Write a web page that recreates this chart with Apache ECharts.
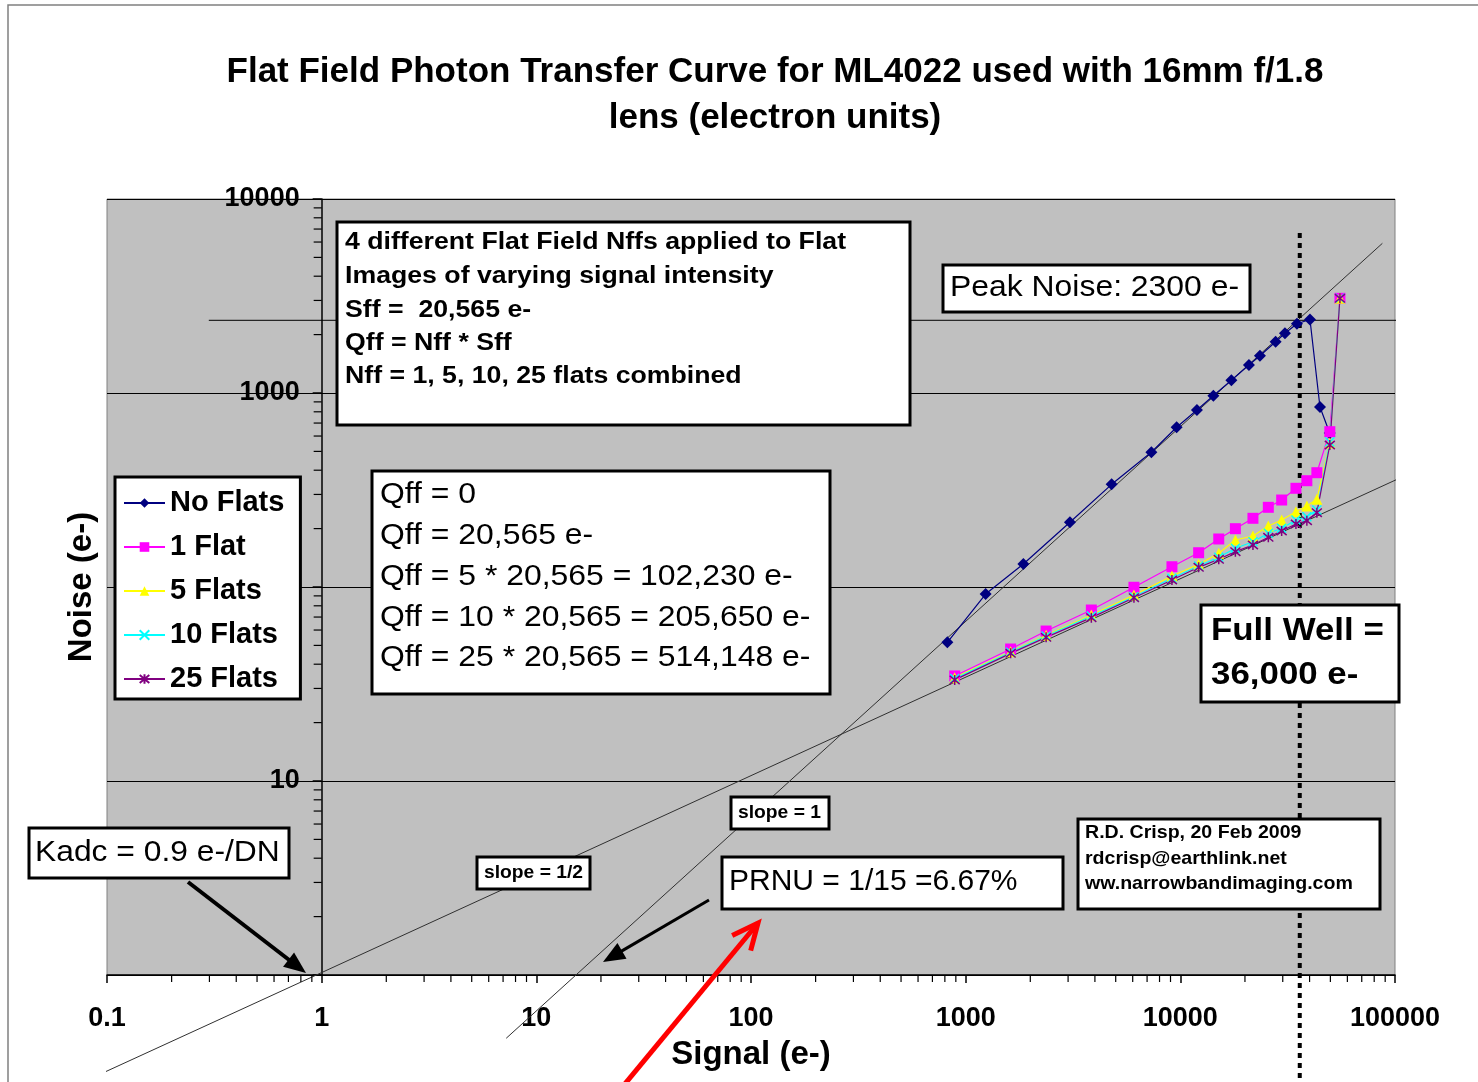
<!DOCTYPE html>
<html>
<head>
<meta charset="utf-8">
<script src="https://cdn.jsdelivr.net/npm/echarts@6/dist/echarts.min.js"></script>
<style>
html,body{margin:0;padding:0;background:#fff;}
#chart{width:1478px;height:1082px;}
</style>
</head>
<body>
<div id="chart"></div>
<script>
// ---------- data ----------
const seriesNames = ['No Flats', '1 Flat', '5 Flats', '10 Flats', '25 Flats'];
const xTickLabels = ['0.1', '1', '10', '100', '1000', '10000', '100000'];
const yTickLabels = ['10', '1000', '10000'];   // "1" and "100" are not visible in the picture

const signalNoFlats = [821.6, 1239, 1857, 3060, 4787, 7328, 9613, 11950, 14250, 17290, 20870, 23490, 27800, 30720, 34940, 40170, 44720, 49620];
const noiseNoFlats  = [51.9, 92.0, 131.4, 215.6, 338.2, 494.7, 665.8, 817.4, 968.5, 1163, 1394, 1557, 1838, 2031, 2276, 2392, 846.8, 622.2];

const signalFlats  = [889, 1620, 2370, 3850, 6080, 9140, 12170, 15100, 18050, 21790, 25700, 29650, 34560, 38850, 43250, 49700, 55400];
const noise1Flat   = [34.8, 47.9, 59.3, 76.1, 99.7, 127.2, 150.2, 176.8, 199.8, 226.0, 257.5, 280.8, 322.7, 353.1, 388.3, 631.8, 3076];
const noise5Flats  = [34.1, 46.4, 56.4, 71.7, 90.9, 114.0, 130.9, 149.2, 174.7, 183.2, 206.3, 221.5, 244.4, 261.5, 283.2, 552.5, 3076];
const noise10Flats = [33.7, 46.1, 55.9, 70.9, 89.1, 110.9, 128.3, 142.3, 158.3, 171.2, 189.2, 200.7, 221.5, 230.4, 249.4, 559.0, 3076];
const noise25Flats = [33.2, 45.5, 55.0, 69.5, 88.1, 108.7, 126.3, 138.9, 152.1, 164.6, 180.4, 194.4, 211.2, 219.7, 241.5, 539.5, 3076];

// reference lines (end points in data units)
const slopeHalfLine = [[0.0934, 0.309], [163200, 455]];
const slopeOneLine  = [[7.24, 0.472], [87340, 5909]];
const peakNoiseLine = [[0.298, 2370], [131700, 2370]];
const fullWellLine  = [[36000, 6680], [36000, 0.28]];

// annotation texts
const infoLines = ['4 different Flat Field Nffs applied to Flat', 'Images of varying signal intensity', 'Sff =  20,565 e-', 'Qff = Nff * Sff', 'Nff = 1, 5, 10, 25 flats combined'];
const qffLines = ['Qff = 0', 'Qff = 20,565 e-', 'Qff = 5 * 20,565 = 102,230 e-', 'Qff = 10 * 20,565 = 205,650 e-', 'Qff = 25 * 20,565 = 514,148 e-'];
const peakText = ['Peak Noise: 2300 e-'];
const fullWellText = ['Full Well =', '36,000 e-'];
const kadcText = ['Kadc = 0.9 e-/DN'];
const slopeHalfText = ['slope = 1/2'];
const slopeOneText = ['slope = 1'];
const prnuText = ['PRNU = 1/15 =6.67%'];
const creditLines = ['R.D. Crisp, 20 Feb 2009', 'rdcrisp@earthlink.net', 'ww.narrowbandimaging.com'];

// ---------- helpers ----------
const FF = '"Liberation Sans", Arial, Helvetica, sans-serif';
const pairs = (xs, ys) => xs.map((x, i) => [x, ys[i]]);

function textBox(b) {
  const children = [{
    type: 'rect', z: 100,
    shape: { x: b.x, y: b.y, width: b.w, height: b.h },
    style: { fill: '#ffffff', stroke: '#000000', lineWidth: b.bw || 3 }
  }];
  b.lines.forEach((t, i) => {
    children.push({
      type: 'text', z: 101, x: b.tx, y: b.ty[i], scaleX: b.sx || 1,
      style: { text: t, x: 0, y: 0, font: b.font, fill: '#000000', textAlign: 'left', textVerticalAlign: 'middle' }
    });
  });
  return { type: 'group', z: 100, children: children };
}

function arrow(x1, y1, x2, y2, color, lw, hl, hw, filled) {
  const dx = x2 - x1, dy = y2 - y1, L = Math.sqrt(dx * dx + dy * dy);
  const ux = dx / L, uy = dy / L, px = -uy, py = ux;
  const bx = x2 - ux * hl, by = y2 - uy * hl;
  const children = [{
    type: 'line', z: 102,
    shape: { x1: x1, y1: y1, x2: filled ? bx + ux * 2 : x2, y2: filled ? by + uy * 2 : y2 },
    style: { stroke: color, lineWidth: lw, lineCap: 'butt' }
  }];
  if (filled) {
    children.push({
      type: 'polygon', z: 102,
      shape: { points: [[x2, y2], [bx + px * hw, by + py * hw], [bx - px * hw, by - py * hw]] },
      style: { fill: color }
    });
  } else {
    children.push({
      type: 'polyline', z: 102,
      shape: { points: [[bx + px * hw, by + py * hw], [x2, y2], [bx - px * hw, by - py * hw]] },
      style: { stroke: color, lineWidth: lw, fill: null, lineJoin: 'miter' }
    });
  }
  return { type: 'group', z: 102, children: children };
}

// minor tick positions (2..9 of each decade)
const xMinor = [], yMinor = [];
[0.1, 1, 10, 100, 1000, 10000].forEach(d => { for (let m = 2; m <= 9; m++) xMinor.push([m * d, 1, 0]); });
[1, 10, 100, 1000].forEach(d => { for (let m = 2; m <= 9; m++) yMinor.push([1, m * d, 1]); });

const fmt = v => String(+(+v).toPrecision(6));

const crossSym = 'path://M0,0L10,10M0,10L10,0';
const starSym = 'path://M0,0L10,10M0,10L10,0M5,-1L5,11';

const chart = echarts.init(document.getElementById('chart'), null, { renderer: 'canvas' });

const option = {
  animation: false,
  backgroundColor: '#ffffff',
  title: {
    text: 'Flat Field Photon Transfer Curve for ML4022 used with 16mm f/1.8\nlens (electron units)',
    left: 770, top: 44, textAlign: 'center',
    textStyle: { fontFamily: FF, fontSize: 35, fontWeight: 'bold', color: '#000', lineHeight: 46 }
  },
  legend: {
    data: seriesNames,
    orient: 'vertical',
    left: 115, top: 477,
    backgroundColor: '#ffffff',
    borderColor: '#000000', borderWidth: 3,
    padding: [11, 16, 5, 8],
    itemWidth: 41, itemHeight: 12, itemGap: 14,
    textStyle: { fontFamily: FF, fontSize: 29, fontWeight: 'bold', color: '#000', lineHeight: 30 },
    selectedMode: false,
    z: 50
  },
  grid: {
    left: 107, top: 199, width: 1288, height: 776,
    show: true, backgroundColor: '#c0c0c0', borderColor: '#808080', borderWidth: 1
  },
  xAxis: {
    type: 'log', logBase: 10, min: 0.1, max: 100000,
    name: 'Signal (e-)', nameLocation: 'middle', nameGap: 63,
    nameTextStyle: { fontFamily: FF, fontSize: 33, fontWeight: 'bold', color: '#000' },
    axisLine: { show: true, lineStyle: { color: '#000', width: 1.5 } },
    axisTick: { show: true, length: 8, lineStyle: { color: '#000', width: 1.5 } },
    axisLabel: {
      fontFamily: FF, fontSize: 27, fontWeight: 'bold', color: '#000', margin: 30,
      formatter: v => { const s = fmt(v); return xTickLabels.indexOf(s) >= 0 ? s : ''; }
    },
    splitLine: { show: false }
  },
  yAxis: {
    type: 'log', logBase: 10, min: 1, max: 10000,
    offset: -1288 / 6,
    name: 'Noise (e-)', nameLocation: 'middle', nameGap: 223,
    nameTextStyle: { fontFamily: FF, fontSize: 33, fontWeight: 'bold', color: '#000' },
    axisLine: { show: true, lineStyle: { color: '#000', width: 1.5 } },
    axisTick: { show: true, length: 9, lineStyle: { color: '#000', width: 1.5 } },
    axisLabel: {
      fontFamily: FF, fontSize: 27, fontWeight: 'bold', color: '#000', margin: 22,
      formatter: v => { const s = fmt(v); return yTickLabels.indexOf(s) >= 0 ? s : ''; }
    },
    splitLine: { show: true, lineStyle: { color: '#000', width: 1.2 } }
  },
  series: [
    {
      name: 'minorTicks', type: 'custom', silent: true, clip: false, z: 3,
      data: xMinor.concat(yMinor),
      renderItem: function (params, api) {
        const kind = api.value(2);
        const p = api.coord([api.value(0), api.value(1)]);
        if (kind === 0) {
          return { type: 'line', shape: { x1: p[0], y1: p[1], x2: p[0], y2: p[1] + 7 }, style: { stroke: '#000', lineWidth: 1.2 } };
        }
        return { type: 'line', shape: { x1: p[0] - 8, y1: p[1], x2: p[0], y2: p[1] }, style: { stroke: '#000', lineWidth: 1.2 } };
      }
    },
    { name: 'slopeHalf', type: 'line', data: slopeHalfLine, clip: false, silent: true, symbol: 'none', z: 1,
      lineStyle: { color: '#303030', width: 1 } },
    { name: 'slopeOne', type: 'line', data: slopeOneLine, clip: false, silent: true, symbol: 'none', z: 1,
      lineStyle: { color: '#303030', width: 1 } },
    { name: 'peakNoise', type: 'line', data: peakNoiseLine, clip: false, silent: true, symbol: 'none', z: 1,
      lineStyle: { color: '#000000', width: 1 } },
    { name: 'fullWell', type: 'line', data: fullWellLine, clip: false, silent: true, symbol: 'none', z: 1,
      lineStyle: { color: '#000000', width: 4, type: [5, 5] } },
    { name: 'No Flats', type: 'line', data: pairs(signalNoFlats, noiseNoFlats),
      symbol: 'diamond', symbolSize: 12, color: '#000080',
      lineStyle: { color: '#000080', width: 1.2 }, itemStyle: { color: '#000080' } },
    { name: '1 Flat', type: 'line', data: pairs(signalFlats, noise1Flat),
      symbol: 'rect', symbolSize: 11, color: '#ff00ff',
      lineStyle: { color: '#ff00ff', width: 1.2 }, itemStyle: { color: '#ff00ff' } },
    { name: '5 Flats', type: 'line', data: pairs(signalFlats, noise5Flats),
      symbol: 'triangle', symbolSize: 11, color: '#ffff00',
      lineStyle: { color: '#ffff00', width: 1.2 }, itemStyle: { color: '#ffff00' } },
    { name: '10 Flats', type: 'line', data: pairs(signalFlats, noise10Flats),
      symbol: crossSym, symbolSize: 9, color: '#00ffff',
      lineStyle: { color: '#00ffff', width: 1.2 }, itemStyle: { color: '#00ffff', borderColor: '#00ffff', borderWidth: 1.5 } },
    { name: '25 Flats', type: 'line', data: pairs(signalFlats, noise25Flats),
      symbol: starSym, symbolSize: 10, color: '#800080',
      lineStyle: { color: '#800080', width: 1.2 }, itemStyle: { color: '#800080', borderColor: '#800080', borderWidth: 1.5 } }
  ],
  graphic: [
    { type: 'rect', z: 0, silent: true, shape: { x: 8, y: 5, width: 1500, height: 1100 },
      style: { fill: null, stroke: '#808080', lineWidth: 1.5 } },
    textBox({ x: 337, y: 222, w: 573, h: 203, lines: infoLines, tx: 345, ty: [243, 277, 311, 344, 377], font: 'bold 23px ' + FF, sx: 1.16 }),
    textBox({ x: 943, y: 265, w: 307, h: 47, lines: peakText, tx: 950, ty: [288], font: '29px ' + FF, sx: 1.1 }),
    textBox({ x: 372, y: 471, w: 458, h: 223, lines: qffLines, tx: 380, ty: [495, 536, 577, 618, 658], font: '29px ' + FF, sx: 1.1 }),
    textBox({ x: 1201, y: 605, w: 198, h: 97, lines: fullWellText, tx: 1211, ty: [631, 675], font: 'bold 32px ' + FF, sx: 1.09 }),
    textBox({ x: 29, y: 828, w: 260, h: 50, lines: kadcText, tx: 35, ty: [853], font: '30px ' + FF, sx: 1.06 }),
    textBox({ x: 477, y: 857, w: 113, h: 32, lines: slopeHalfText, tx: 484, ty: [873], font: 'bold 18px ' + FF, sx: 1.07 }),
    textBox({ x: 731, y: 797, w: 98, h: 32, lines: slopeOneText, tx: 738, ty: [813], font: 'bold 18px ' + FF, sx: 1.07 }),
    textBox({ x: 722, y: 857, w: 341, h: 52, lines: prnuText, tx: 729, ty: [882], font: '30px ' + FF, sx: 1.0 }),
    textBox({ x: 1078, y: 819, w: 302, h: 90, lines: creditLines, tx: 1085, ty: [833, 859, 884], font: 'bold 19px ' + FF, sx: 1.03 }),
    arrow(188, 882, 306, 973, '#000000', 4, 22, 9, true),
    arrow(709, 900, 603, 962, '#000000', 3, 22, 9, true),
    arrow(624, 1085, 758, 923, '#ff0000', 5, 26, 12, false)
  ]
};

chart.setOption(option);
</script>
</body>
</html>
